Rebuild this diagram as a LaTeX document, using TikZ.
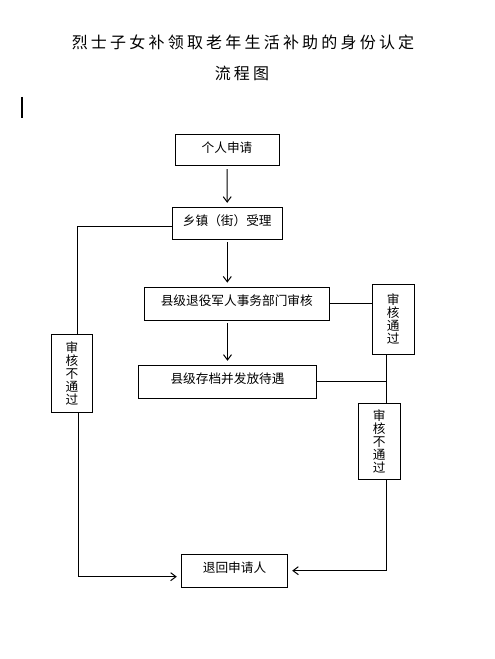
\documentclass[tikz,border=0pt]{standalone}
\usepackage{fontspec}
\usetikzlibrary{arrows.meta,positioning}
\newfontfamily\cjk{Noto Sans CJK SC}
\newfontfamily\cjktitle[LetterSpace=20]{Noto Sans CJK SC}

\begin{document}
\begin{tikzpicture}[x=0.75pt,y=-0.75pt,
box/.style={draw,line width=0.75pt,inner sep=0pt,font=\fontsize{9.5pt}{9.8pt}\selectfont\cjk,text height=0.8em,text depth=0.5em},
tallbox/.style={draw,line width=0.75pt,inner sep=0pt,align=center,minimum width=31.5pt,font=\fontsize{9.5pt}{9.8pt}\selectfont\cjk},
title/.style={font=\fontsize{12pt}{14pt}\selectfont\cjktitle,inner sep=0pt},
arrow/.style={-{Straight Barb[length=4pt,width=6pt]},line width=0.75pt,shorten <=2pt,shorten >=3pt},
link/.style={line width=0.75pt}
]
\fill[white] (0,0) rectangle (494,659);
\useasboundingbox (0,0) rectangle (494,659);
% title
\node[title] (title) at (243,42) {烈士子女补领取老年生活补助的身份认定};
\node[title] (subtitle) at (242,73) {流程图};
\draw[line width=1.5pt] (22,97) -- (22,118);
% main column
\node[box,minimum width=78pt,minimum height=23.25pt] (apply) at (227,150.5) {个人申请};
\node[box,minimum width=82.5pt,minimum height=24pt] (town) at (227.3,223.3) {乡镇（街）受理};
\node[box,minimum width=138.75pt,minimum height=24.75pt] (county) at (236.8,303.6) {县级退役军人事务部门审核};
\node[box,minimum width=133.8pt,minimum height=24.75pt] (archive) at (227.5,381.8) {县级存档并发放待遇};
\node[box,minimum width=79.8pt,minimum height=24.5pt] (back) at (234.5,570.7) {退回申请人};
% side boxes
\node[tallbox,minimum height=52.5pt] (pass) at (393.3,319) {审\\核\\通\\过};
\node[tallbox,minimum height=57pt] (failR) at (379.3,441.3) {审\\核\\不\\通\\过};
\node[tallbox,minimum width=31pt,minimum height=58.5pt] (failL) at (72,373.3) {审\\核\\不\\通\\过};
\coordinate (join) at (386.7,381.8);
\coordinate (ltop) at (77.3,226);
\coordinate (lbot) at (78,576.7);
% connectors
\draw[arrow] (apply) -- (town);
\draw[arrow] (town.south) -- (town.south |- county.north);
\draw[arrow] (archive.north |- county.south) -- (archive.north);
\draw[link] (county.east) -- (county.east -| pass.west);
\draw[link] (archive.east) -- (join);
\draw[link] (join |- pass.south) -- (join |- failR.north);
\draw[arrow,shorten <=0pt] (join |- failR.south) |- (back.east);
\draw[link] (ltop -| town.west) -- (ltop) -- (ltop |- failL.north);
\draw[arrow,shorten <=0pt] (lbot |- failL.south) -- (lbot) -- (lbot -| back.west);
\end{tikzpicture}
\end{document}
